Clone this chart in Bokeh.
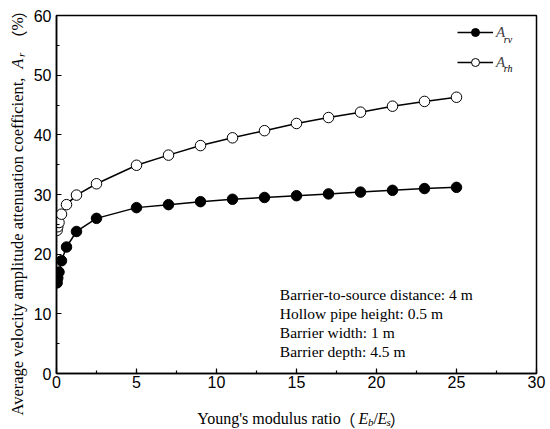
import math
from bokeh.plotting import figure
from bokeh.layouts import row, column
from bokeh.models import Label, Legend, LegendItem, SingleIntervalTicker, Range1d
from bokeh.embed import file_html
from bokeh.resources import INLINE

# ---- data ----
ratio = [0.0390625, 0.078125, 0.15625, 0.3125, 0.625, 1.25, 2.5,
         5, 7, 9, 11, 13, 15, 17, 19, 21, 23, 25]
a_rv = [15.2, 16.0, 17.0, 18.9, 21.2, 23.8, 26.0,
        27.8, 28.3, 28.8, 29.2, 29.5, 29.8, 30.1, 30.4, 30.7, 31.0, 31.2]
a_rh = [24.0, 24.6, 25.3, 26.7, 28.3, 29.9, 31.8,
        34.9, 36.6, 38.2, 39.5, 40.7, 41.9, 42.9, 43.8, 44.8, 45.6, 46.3]
x_ticks_interval = 5
y_ticks_interval = 10
notes = ["Barrier-to-source distance: 4 m",
         "Hollow pipe height: 0.5 m",
         "Barrier width: 1 m",
         "Barrier depth: 4.5 m"]

SERIF = "Liberation Serif"
SANS = "Liberation Sans"
CJK = "Noto Sans CJK SC"

# ---- main plot ----
p = figure(width=522, height=395, output_backend="svg", toolbar_location=None,
           x_range=Range1d(0, 30), y_range=Range1d(0, 60),
           min_border_left=28, min_border_right=14, min_border_top=15, min_border_bottom=22)
p.xgrid.visible = False
p.ygrid.visible = False
p.outline_line_color = "black"
p.outline_line_width = 1.5
p.background_fill_color = "white"
p.border_fill_color = "white"

p.xaxis.ticker = SingleIntervalTicker(interval=x_ticks_interval, num_minor_ticks=2)
p.yaxis.ticker = SingleIntervalTicker(interval=y_ticks_interval, num_minor_ticks=2)
for ax in (p.xaxis[0], p.yaxis[0]):
    ax.axis_line_color = "black"
    ax.axis_line_width = 1.5
    ax.major_tick_in = 5
    ax.major_tick_out = 0
    ax.minor_tick_in = 3
    ax.minor_tick_out = 0
    ax.major_tick_line_color = "black"
    ax.minor_tick_line_color = "black"
    ax.major_tick_line_width = 1.2
    ax.minor_tick_line_width = 1.2
    ax.major_label_text_font = SANS
    ax.major_label_text_font_size = "16px"
    ax.major_label_text_color = "black"
p.xaxis.major_label_standoff = 2
p.yaxis.major_label_standoff = 5

l1 = p.line(ratio, a_rv, line_color="black", line_width=1.5)
s1 = p.scatter(ratio, a_rv, marker="circle", size=10.5, fill_color="black", line_color="black")
l2 = p.line(ratio, a_rh, line_color="black", line_width=1.5)
s2 = p.scatter(ratio, a_rh, marker="circle", size=10.5, fill_color="white", line_color="black", line_width=1)

legend = Legend(items=[LegendItem(label="A", renderers=[l1, s1]),
                       LegendItem(label="A", renderers=[l2, s2])],
                location=(401, 301), padding=0, margin=0, spacing=10,
                glyph_width=36, glyph_height=20, label_height=20, label_standoff=3,
                label_text_font=SERIF, label_text_font_style="italic",
                label_text_font_size="15px", border_line_color=None,
                background_fill_alpha=0)
p.add_layout(legend)


def lab(fig, text, x, y, size="16px", style="normal", font=SERIF, angle=0.0):
    fig.add_layout(Label(x=x, y=y, x_units="screen", y_units="screen", text=text,
                         text_font=font, text_font_size=size, text_font_style=style,
                         text_color="black", angle=angle, text_align="left",
                         text_baseline="alphabetic"))

# legend subscripts
lab(p, "rv", 447.3, 334.5, size="10px", style="italic")
lab(p, "rh", 447.3, 305, size="10px", style="italic")

# notes
for i, t in enumerate(notes):
    lab(p, t, 223.3, 79 - i * 19, size="15.5px")


def text_panel(w, h):
    f = figure(width=w, height=h, output_backend="svg", toolbar_location=None,
               x_range=Range1d(0, 1), y_range=Range1d(0, 1),
               x_axis_type=None, y_axis_type=None,
               min_border_left=0, min_border_right=0, min_border_top=0, min_border_bottom=0)
    f.outline_line_color = None
    f.background_fill_color = "white"
    f.border_fill_color = "white"
    return f

# ---- x axis title panel (below the plot) ----
xt = text_panel(522, 34)
lab(xt, "Young's modulus ratio", 140.7, 11)
lab(xt, "（", 283, 11, font=CJK)
lab(xt, "E", 302, 11, style="italic")
lab(xt, "b", 311.5, 8, size="11px", style="italic")
lab(xt, "/", 317, 11)
lab(xt, "E", 321, 11, style="italic")
lab(xt, "s", 330, 8, size="11px", style="italic")
lab(xt, "）", 333, 11, font=CJK)

# ---- y axis title panel (left of the plot, rotated) ----
yt = text_panel(28, 429)
a = math.pi / 2
lab(yt, "Average velocity amplitude attenuation coefficient,", 17, 14, size="16.5px", angle=a)
lab(yt, "A", 17, 361, style="italic", angle=a)
lab(yt, "r", 20, 372.5, size="11px", style="italic", angle=a)
lab(yt, "（", 17, 383, font=CJK, angle=a)
lab(yt, "%", 17, 399, angle=a)
lab(yt, "）", 17, 411, font=CJK, angle=a)

layout = row(yt, column(p, xt))
open("out.html", "w").write(file_html(layout, INLINE))
